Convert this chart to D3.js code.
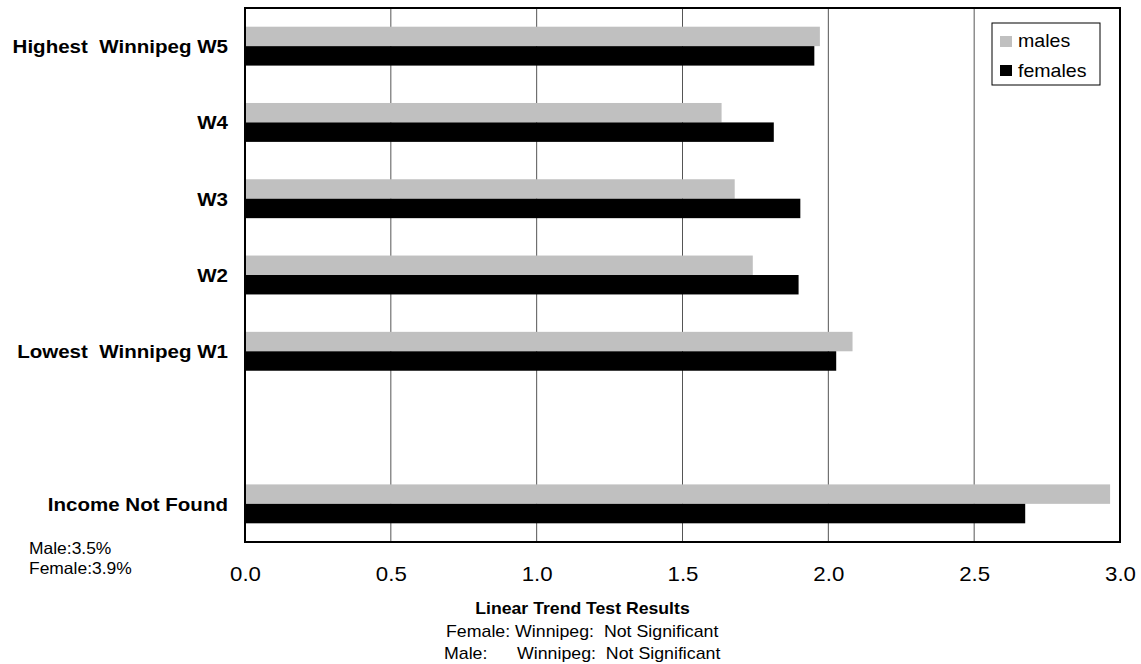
<!DOCTYPE html>
<html>
<head>
<meta charset="utf-8">
<script src="https://cdn.jsdelivr.net/npm/d3@7"></script>
<style>
  body { margin: 0; background: #fff; }
  svg { display: block; font-family: Arial, "Liberation Sans", sans-serif; }
  text { white-space: pre; fill: #000; }
</style>
</head>
<body>
<svg id="chart" width="1141" height="664"></svg>
<script>
const categories = ["Highest  Winnipeg W5", "W4", "W3", "W2", "Lowest  Winnipeg W1", " ", "Income Not Found"];
const males   = [1.971, 1.634, 1.679, 1.741, 2.083, null, 2.966];
const females = [1.952, 1.813, 1.904, 1.898, 2.027, null, 2.675];
const seriesNames = ["males", "females"];
const seriesColors = ["#c0c0c0", "#000000"];
const xTicks = [0, 0.5, 1.0, 1.5, 2.0, 2.5, 3.0];
const noteLines = ["Male:3.5%", "Female:3.9%"];
const trendTitle = "Linear Trend Test Results";
const trendLines = [["Female:", "Winnipeg:  Not Significant"], ["Male:", "Winnipeg:  Not Significant"]];

(function () {
const svg = d3.select("#chart");
const pLeft = 245, pRight = 1120, pTop = 8, pBottom = 542;
const SX = 1.07; // horizontal stretch of the original's text

function addText(parent, x, y, str, size, opts = {}) {
  return parent.append("text")
    .attr("transform", `translate(${x},${y}) scale(${SX},1)`)
    .attr("text-anchor", opts.anchor || "start")
    .attr("font-weight", opts.bold ? "bold" : "normal")
    .attr("font-size", size)
    .attr("dy", opts.dy || null)
    .text(str);
}

const x = d3.scaleLinear().domain([0, 3]).range([pLeft, pRight]);
const y = d3.scaleBand().domain(d3.range(categories.length)).range([pTop, pBottom])
  .paddingInner(0.49).paddingOuter(0.245);
const ySub = d3.scaleBand().domain(seriesNames).range([0, y.bandwidth()]);

// gridlines
svg.append("g").selectAll("line").data(xTicks.slice(1, -1)).join("line")
  .attr("x1", d => x(d)).attr("x2", d => x(d))
  .attr("y1", pTop).attr("y2", pBottom)
  .attr("stroke", "#555").attr("stroke-width", 1);

// bars
const data = [];
categories.forEach((c, i) => {
  if (males[i] != null) data.push({ i, s: "males", v: males[i], color: seriesColors[0] });
  if (females[i] != null) data.push({ i, s: "females", v: females[i], color: seriesColors[1] });
});
svg.append("g").selectAll("rect").data(data).join("rect")
  .attr("x", x(0))
  .attr("y", d => y(d.i) + ySub(d.s))
  .attr("width", d => x(d.v) - x(0))
  .attr("height", ySub.bandwidth())
  .attr("fill", d => d.color);

// plot border
svg.append("rect").attr("x", pLeft).attr("y", pTop)
  .attr("width", pRight - pLeft).attr("height", pBottom - pTop)
  .attr("fill", "none").attr("stroke", "#000").attr("stroke-width", 2);

// x axis
const xAxis = svg.append("g").attr("transform", `translate(0,${pBottom})`)
  .call(d3.axisBottom(x).tickValues(xTicks).tickFormat(d3.format(".1f")).tickSize(0).tickPadding(24));
xAxis.select(".domain").remove();
xAxis.selectAll("text")
  .attr("font-size", 20.8)
  .attr("font-family", "Arial, 'Liberation Sans', sans-serif")
  .attr("fill", "#000")
  .attr("transform", `scale(${SX},1)`);

// category labels
const cg = svg.append("g");
categories.forEach((c, i) => {
  addText(cg, 228, y(i) + y.bandwidth() / 2, c, 19.2, { anchor: "end", bold: true, dy: "0.36em" });
});

// legend
const lg = svg.append("g");
lg.append("rect").attr("x", 992).attr("y", 23).attr("width", 108).attr("height", 62)
  .attr("fill", "#fff").attr("stroke", "#000").attr("stroke-width", 1);
seriesNames.forEach((s, k) => {
  lg.append("rect").attr("x", 1000).attr("y", 36 + k * 29).attr("width", 12).attr("height", 11)
    .attr("fill", seriesColors[k]);
  addText(lg, 1018, 47 + k * 30, s, 18.3);
});

// notes
const ng = svg.append("g");
noteLines.forEach((t, i) => addText(ng, 29, 554 + i * 20, t, 16.3));

// trend text
const tg = svg.append("g");
addText(tg, 582.5, 614, trendTitle, 16.5, { anchor: "middle", bold: true });
addText(tg, 446, 637, trendLines[0][0] + " " + trendLines[0][1], 16.6);
addText(tg, 444, 659, trendLines[1][0], 16.6);
addText(tg, 517, 659, trendLines[1][1], 16.6);
})();
</script>
</body>
</html>
